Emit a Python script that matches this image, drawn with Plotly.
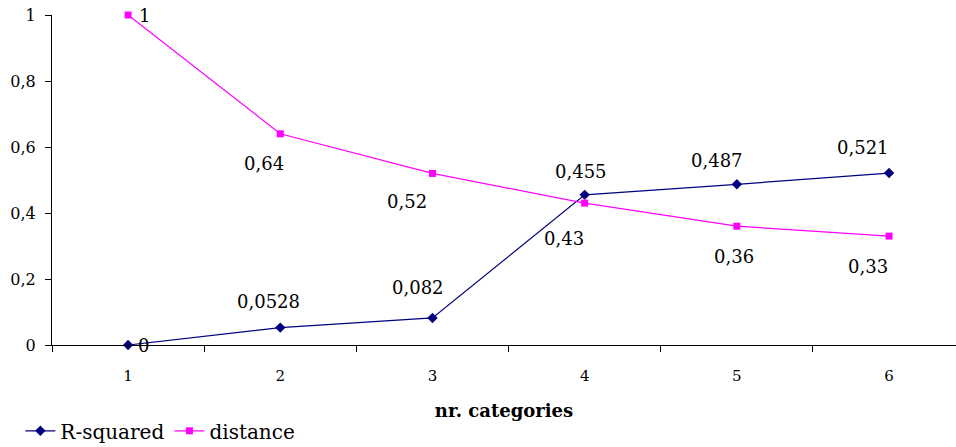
import plotly.graph_objects as go

# Number of categories on the x axis
categories = [1, 2, 3, 4, 5, 6]
r_squared = [0, 0.0528, 0.082, 0.455, 0.487, 0.521]
distance = [1, 0.64, 0.52, 0.43, 0.36, 0.33]
y_ticks = [0, 0.2, 0.4, 0.6, 0.8, 1]

# Pixel offsets of the value labels relative to their points (x, y-up)
r_label_shift = [(8, 0), (-12, 26), (-14, 30), (-4, 23), (-20, 24), (-26, 26)]
d_label_shift = [(9, 0), (-16, -30), (-25, -28), (-21, -35), (-3, -30), (-21, -30)]

NAVY = "#000080"
MAGENTA = "#FF00FF"
FONT = "DejaVu Serif"


def fmt(v):
    return f"{v:g}".replace(".", ",")


fig = go.Figure()
fig.add_trace(go.Scatter(
    x=categories, y=r_squared, name="R-squared", mode="lines+markers",
    line=dict(color=NAVY, width=1.2),
    marker=dict(symbol="diamond", size=8, color=NAVY),
    cliponaxis=False,
))
fig.add_trace(go.Scatter(
    x=categories, y=distance, name="distance", mode="lines+markers",
    line=dict(color=MAGENTA, width=1.2),
    marker=dict(symbol="square", size=7, color=MAGENTA),
    cliponaxis=False,
))

annotations = []
for xs, ys, shifts in ((categories, r_squared, r_label_shift),
                       (categories, distance, d_label_shift)):
    for i, (x, y) in enumerate(zip(xs, ys)):
        dx, dy = shifts[i]
        left = i == 0
        annotations.append(dict(
            x=x, y=y, xref="x", yref="y", text=fmt(y), showarrow=False,
            xanchor="left" if left else "center", yanchor="middle",
            xshift=dx, yshift=dy,
            font=dict(family=FONT, size=18, color="black"),
        ))

fig.update_layout(
    width=956, height=447,
    margin=dict(l=52, r=0, t=15, b=102, autoexpand=False),
    paper_bgcolor="white", plot_bgcolor="white",
    separators=",.",
    font=dict(family=FONT, color="black"),
    showlegend=True,
    legend=dict(
        orientation="h", xref="paper", yref="paper",
        x=-0.035, y=-0.26, xanchor="left", yanchor="middle",
        font=dict(family=FONT, size=20, color="black"),
        bgcolor="rgba(0,0,0,0)", itemwidth=30, tracegroupgap=0,
    ),
    annotations=annotations,
    xaxis=dict(
        range=[0.5, 6.44], tickmode="array", tickvals=categories,
        ticktext=[str(c) for c in categories],
        ticks="outside", ticklen=17, tickcolor="rgba(0,0,0,0)",
        tickfont=dict(family=FONT, size=15, color="black"),
        showline=True, linecolor="black", linewidth=1,
        showgrid=False, zeroline=False, automargin=False,
        minor=dict(tickvals=[c - 0.5 for c in categories] + [6.5],
                   ticks="outside", ticklen=6, tickcolor="black", tickwidth=1),
        title=dict(text="<b>nr. categories</b>", standoff=20,
                   font=dict(family=FONT, size=18, color="black")),
    ),
    yaxis=dict(
        range=[0, 1], tickmode="array", tickvals=y_ticks,
        ticks="outside", ticklen=6, tickcolor="black",
        tickfont=dict(family=FONT, size=16, color="black"),
        showline=True, linecolor="black", linewidth=1,
        showgrid=False, zeroline=False, automargin=False,
        ticklabelstandoff=6,
    ),
)

fig.write_html("out.html")
